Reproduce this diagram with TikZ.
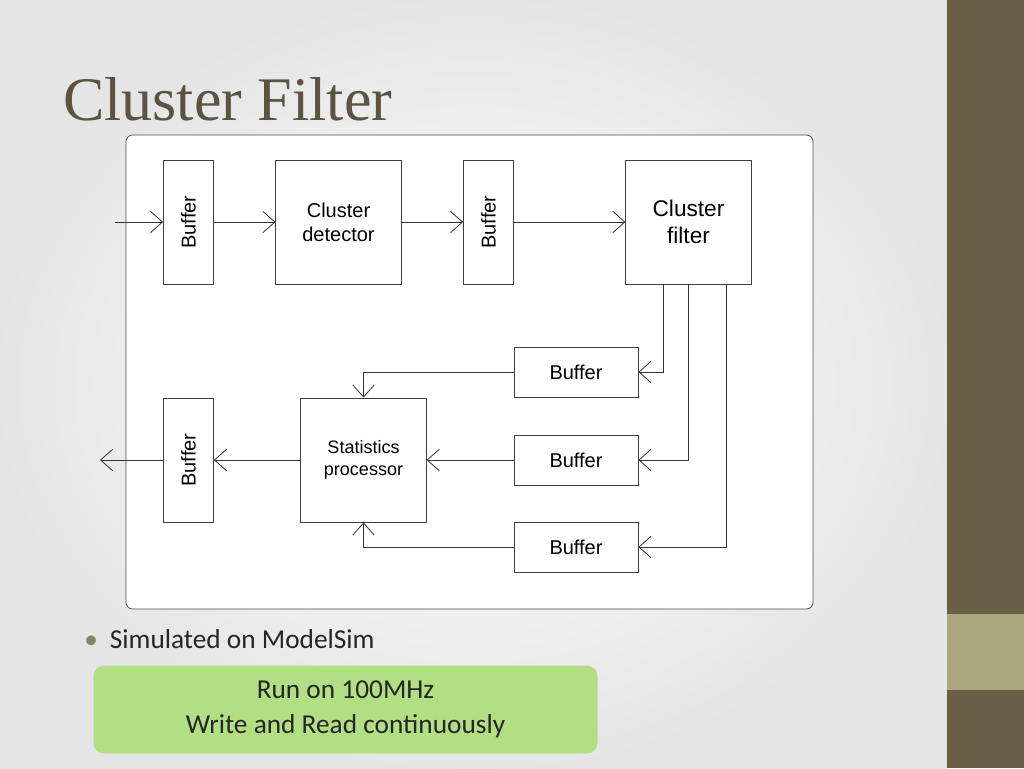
\documentclass[tikz,border=0pt]{standalone}
\usepackage{fontspec}
\setmainfont{Liberation Sans}
\newfontfamily\titlefont{Liberation Serif}
\newfontfamily\bodyfont{Carlito}
\usetikzlibrary{arrows.meta}
\definecolor{brownbar}{HTML}{6A5E46}
\definecolor{olive}{HTML}{A9A57C}
\definecolor{titlec}{HTML}{5C5440}
\definecolor{greenbox}{HTML}{B2DE84}
\begin{document}
\begin{tikzpicture}[x=0.75pt,y=-0.75pt,
  blk/.style={draw=black!75,fill=white,line width=0.6pt,inner sep=0pt,font=\fontsize{15}{18}\selectfont,align=center},
  arr/.style={draw=black!80,line width=0.6pt,-{Straight Barb[length=9pt,width=16pt,line width=0.6pt]}},
  ln/.style={draw=black!80,line width=0.6pt}]
\useasboundingbox (0,0) rectangle (1024,768);
\shade[inner color=white,outer color=black!10] (0,0) rectangle (947,768);
\fill[brownbar] (947,0) rectangle (1024,768);
\fill[olive] (947,614) rectangle (1024,690);
\node[anchor=base west,inner sep=0pt,text=titlec,font=\titlefont\fontsize{46.5}{52}\selectfont,xscale=1.0] (title) at (63,120) {Cluster Filter};
\draw[black!70,fill=white,rounded corners=5pt,line width=0.6pt] (126,135) rectangle (813,609);
% nodes
\node[blk,minimum width=37.5pt,minimum height=93pt] (b1) at (188.5,222) {\rotatebox{90}{Buffer}};
\node[blk,minimum width=94pt,minimum height=93pt] (cd) at (338.5,222) {Cluster\\detector};
\node[blk,minimum width=37.5pt,minimum height=93pt] (b2) at (488.5,222) {\rotatebox{90}{Buffer}};
\node[blk,minimum width=94pt,minimum height=93pt,font=\fontsize{17}{20}\selectfont] (cf) at (688.5,222) {Cluster\\filter};
\node[blk,minimum width=93pt,minimum height=37.5pt] (r1) at (576,372) {Buffer};
\node[blk,minimum width=93pt,minimum height=37.5pt] (r2) at (576,460) {Buffer};
\node[blk,minimum width=93pt,minimum height=37.5pt] (r3) at (576,547) {Buffer};
\node[blk,minimum width=94pt,minimum height=93pt,font=\fontsize{13.5}{17}\selectfont] (sp) at (363.5,460) {Statistics\\processor};
\node[blk,minimum width=37.5pt,minimum height=93pt] (b3) at (188.5,460) {\rotatebox{90}{Buffer}};
\coordinate (in) at (115,222);
\coordinate (out) at (100,460);
% connectors
\draw[arr] (in) -- (b1);
\draw[arr] (b1) -- (cd);
\draw[arr] (cd) -- (b2);
\draw[arr] (b2) -- (cf);
\draw[arr] (cf.south -| 663,0) |- (r1.east);
\draw[arr] (cf.south -| 688,0) |- (r2.east);
\draw[arr] (cf.south -| 726,0) |- (r3.east);
\draw[arr] (r1.west) -| (sp.north);
\draw[arr] (r2.west) -- (sp.east);
\draw[arr] (r3.west) -| (sp.south);
\draw[arr] (sp.west) -- (b3.east);
\draw[arr] (b3.west) -- (out);
% text
\node[anchor=base west,inner sep=0pt,font=\bodyfont\fontsize{20.5}{24}\selectfont,text=black!85] (bul) at (84,648) {\textcolor{olive!80!black}{\textbullet}\hspace{9pt}Simulated on ModelSim};
\node[fill=greenbox,rounded corners=8pt,minimum width=378pt,minimum height=66pt,align=center,font=\bodyfont\fontsize{20.5}{26}\selectfont,text=black!85] (gb) at (345.5,709.5) {Run on 100MHz\\Write and Read continuously};
\end{tikzpicture}
\end{document}
